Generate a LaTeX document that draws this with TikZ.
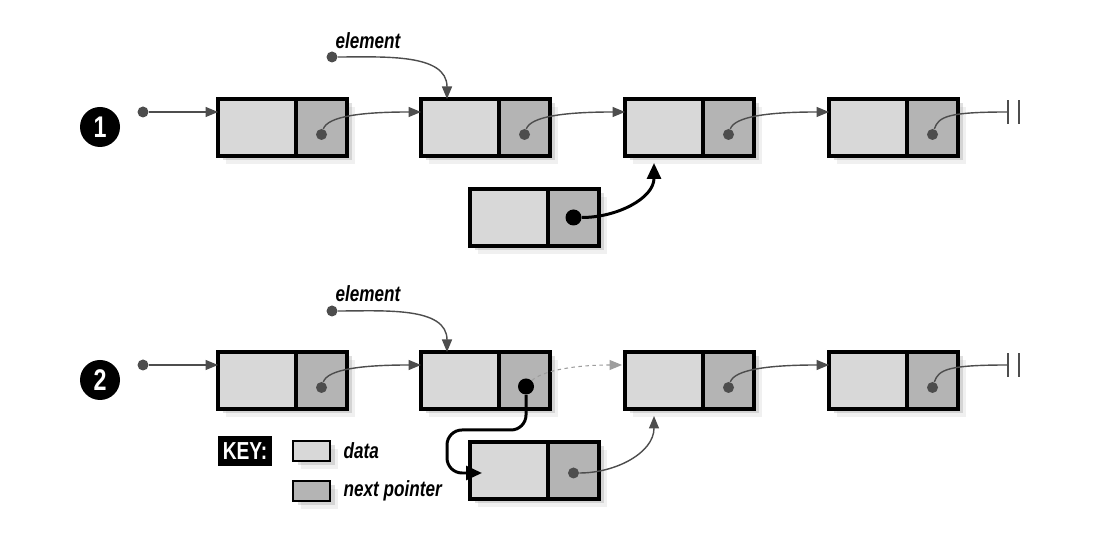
\documentclass[tikz,border=0pt]{standalone}
\usepackage{fontspec}
\newfontfamily\etiq[FakeStretch=0.78]{Liberation Sans}
\usetikzlibrary{positioning,arrows.meta,shadows}
\definecolor{donnee}{HTML}{D8D8D8}
\definecolor{pointeur}{HTML}{B4B4B4}
\definecolor{fleche}{HTML}{4D4D4D}
\begin{document}
\begin{tikzpicture}[
  cellule/.style={draw=black, line width=2.1pt, minimum height=1.14cm, inner sep=0pt, outer sep=0pt,
    drop shadow={shadow xshift=0.16cm, shadow yshift=-0.16cm, fill=black!40, opacity=0.15},
    drop shadow={shadow xshift=0.09cm, shadow yshift=-0.09cm, fill=black!50, opacity=0.25}},
  donnees/.style={cellule, fill=donnee, minimum width=1.56cm},
  suivant/.style={cellule, fill=pointeur, minimum width=1.02cm},
  point/.style={circle, fill=fleche, inner sep=0pt, minimum size=0.22cm},
  gros point/.style={circle, fill=black, inner sep=0pt, minimum size=0.32cm},
  lien/.style={draw=fleche, line width=0.8pt, -{Triangle[length=0.25cm, width=0.2cm]}},
  lien fort/.style={draw=black, line width=1.7pt, -{Triangle[length=0.32cm, width=0.28cm]}},
  etape/.style={circle, fill=black, text=white, minimum size=0.8cm, inner sep=0pt, font=\etiq\bfseries\fontsize{17}{17}\selectfont},
  texte/.style={font=\etiq\bfseries\itshape\fontsize{12.5}{14}\selectfont}
]
\useasboundingbox (0,0) rectangle (22,10.72);

% Etape 1 : la liste
\node[etape] (n1) at (2,8.18) {1};
\node[point] (ta) at (2.86,8.48) {};
\node[donnees] (da1) at (5.14,8.17) {};
\node[suivant, right=0pt of da1] (pa1) {};
\node[donnees, right=1.48cm of pa1] (da2) {};
\node[suivant, right=0pt of da2] (pa2) {};
\node[donnees, right=1.5cm of pa2] (da3) {};
\node[suivant, right=0pt of da3] (pa3) {};
\node[donnees, right=1.5cm of pa3] (da4) {};
\node[suivant, right=0pt of da4] (pa4) {};
\node[point] (xa1) at ([yshift=-0.14cm]pa1.center) {};
\node[point] (xa2) at ([yshift=-0.14cm]pa2.center) {};
\node[point] (xa3) at ([yshift=-0.14cm]pa3.center) {};
\node[point] (xa4) at ([yshift=-0.14cm]pa4.center) {};
\coordinate (fina) at ([xshift=1cm,yshift=0.31cm]pa4.east);

% Pointeurs
\draw[lien] (ta) -- (ta -| da1.west);
\draw[lien] (xa1) .. controls +(0.12,0.36) and +(-1.2,0) .. ([yshift=0.31cm]da2.west);
\draw[lien] (xa2) .. controls +(0.12,0.36) and +(-1.2,0) .. ([yshift=0.31cm]da3.west);
\draw[lien] (xa3) .. controls +(0.12,0.36) and +(-1.2,0) .. ([yshift=0.31cm]da4.west);
\draw[draw=fleche, line width=0.8pt] (xa4) .. controls +(0.12,0.36) and +(-1.2,0) .. (fina);
\draw[draw=fleche, line width=0.8pt] ([yshift=-0.24cm]fina) -- ([yshift=0.24cm]fina)
  ([xshift=0.22cm,yshift=-0.24cm]fina) -- ([xshift=0.22cm,yshift=0.24cm]fina);

% element
\node[point] (ea) at (6.64,9.58) {};
\node[texte] (la) at (7.36,9.9) {element};
\draw[lien] (ea) to[out=0,in=90] ([xshift=-0.26cm]da2.north);

% Nouvel element
\node[donnees] (dna) at (10.18,6.37) {};
\node[suivant, right=0pt of dna] (pna) {};
\node[gros point] (xna) at (pna.center) {};
\draw[lien fort] (xna) to[out=0,in=-90] ([xshift=-0.2cm,yshift=-0.14cm]da3.south);

% Etape 2 : la liste
\node[etape] (n2) at (2,3.12) {2};
\node[point] (tb) at (2.86,3.42) {};
\node[donnees] (db1) at (5.14,3.11) {};
\node[suivant, right=0pt of db1] (pb1) {};
\node[donnees, right=1.48cm of pb1] (db2) {};
\node[suivant, right=0pt of db2] (pb2) {};
\node[donnees, right=1.5cm of pb2] (db3) {};
\node[suivant, right=0pt of db3] (pb3) {};
\node[donnees, right=1.5cm of pb3] (db4) {};
\node[suivant, right=0pt of db4] (pb4) {};
\node[point] (xb1) at ([yshift=-0.14cm]pb1.center) {};
\node[gros point] (xb2) at ([xshift=0.03cm,yshift=-0.12cm]pb2.center) {};
\node[point] (xb3) at ([yshift=-0.14cm]pb3.center) {};
\node[point] (xb4) at ([yshift=-0.14cm]pb4.center) {};
\coordinate (finb) at ([xshift=1cm,yshift=0.31cm]pb4.east);

% Pointeurs
\draw[lien] (tb) -- (tb -| db1.west);
\draw[lien] (xb1) .. controls +(0.12,0.36) and +(-1.2,0) .. ([yshift=0.31cm]db2.west);
\draw[lien, draw=fleche!55, line width=0.6pt, dash pattern=on 2pt off 2pt] (xb2) .. controls +(0.3,0.3) and +(-1,0) .. ([xshift=-0.06cm,yshift=0.31cm]db3.west);
\draw[lien] (xb3) .. controls +(0.12,0.36) and +(-1.2,0) .. ([yshift=0.31cm]db4.west);
\draw[draw=fleche, line width=0.8pt] (xb4) .. controls +(0.12,0.36) and +(-1.2,0) .. (finb);
\draw[draw=fleche, line width=0.8pt] ([yshift=-0.24cm]finb) -- ([yshift=0.24cm]finb)
  ([xshift=0.22cm,yshift=-0.24cm]finb) -- ([xshift=0.22cm,yshift=0.24cm]finb);

% element
\node[point] (eb) at (6.64,4.5) {};
\node[texte] (lb) at (7.36,4.84) {element};
\draw[lien] (eb) to[out=0,in=90] ([xshift=-0.26cm]db2.north);

% Nouvel element insere
\node[donnees] (dnb) at (10.18,1.31) {};
\node[suivant, right=0pt of dnb] (pnb) {};
\node[point] (xnb) at ([yshift=-0.05cm]pnb.center) {};
\coordinate (coude) at (8.94,2.12);
\draw[lien fort, rounded corners=0.3cm] (xb2) |- (coude) |- ([xshift=0.24cm,yshift=-0.05cm]dnb.west);
\draw[lien] (xnb) to[out=0,in=-90] ([xshift=-0.2cm,yshift=-0.14cm]db3.south);

% Legende
\node[fill=black, text=white, minimum width=1.08cm, minimum height=0.6cm, inner sep=0pt,
  font=\etiq\bfseries\fontsize{14}{14}\selectfont] (cle) at (4.9,1.7) {KEY:};
\node[cellule, fill=donnee, minimum width=0.74cm, minimum height=0.4cm, line width=1.6pt] (kd) at (6.23,1.7) {};
\node[cellule, fill=pointeur, minimum width=0.74cm, minimum height=0.4cm, line width=1.6pt] (kp) at (6.23,0.9) {};
\node[texte, right=0.15cm of kd] (ld) {data};
\node[texte, right=0.15cm of kp] (lp) {next pointer};

\end{tikzpicture}
\end{document}
